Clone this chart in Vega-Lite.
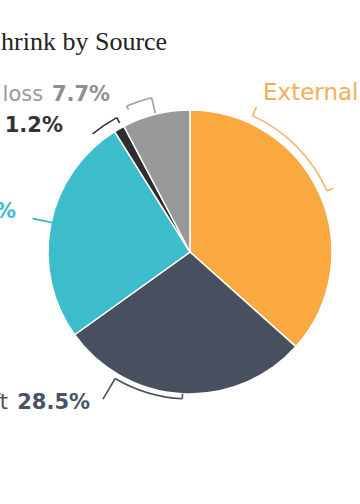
{
  "$schema": "https://vega.github.io/schema/vega-lite/v6.json",
  "width": 380,
  "height": 384,
  "autosize": "none",
  "padding": {"left": 0, "top": 60, "right": 0, "bottom": 60},
  "background": "white",
  "view": {"stroke": null},
  "title": {
    "text": "Inventory Shrink by Source",
    "anchor": "start",
    "frame": "group",
    "dx": -121,
    "dy": 33,
    "offset": 17,
    "baseline": "alphabetic",
    "font": "Liberation Serif",
    "fontSize": 26,
    "fontWeight": "normal",
    "color": "#222222"
  },
  "data": {
    "values": [
      {"source": "External theft", "value": 0.366, "idx": 1},
      {"source": "Employee theft", "value": 0.285, "idx": 2},
      {"source": "Process failure", "value": 0.26, "idx": 3},
      {"source": "Vendor errors", "value": 0.012, "idx": 4},
      {"source": "Unknown loss", "value": 0.077, "idx": 5}
    ]
  },
  "transform": [
    {"window": [{"op": "sum", "field": "value", "as": "cum"}], "sort": [{"field": "idx"}]}
  ],
  "layer": [
    {
      "mark": {"type": "arc", "radius": 142, "stroke": "white", "strokeWidth": 1.5},
      "encoding": {
        "theta": {"field": "value", "type": "quantitative", "stack": true, "scale": {"domain": [0, 1]}},
        "order": {"field": "idx", "type": "quantitative"},
        "color": {
          "field": "source", "type": "nominal", "legend": null,
          "scale": {
            "domain": ["External theft", "Employee theft", "Process failure", "Vendor errors", "Unknown loss"],
            "range": ["#F9A940", "#48505F", "#3DBDCC", "#2E2E30", "#999999"]
          }
        }
      }
    },
    {
      "transform": [{"filter": "datum.source === 'External theft'"}],
      "encoding": {"theta": {"field": "cum", "type": "quantitative", "stack": null, "scale": {"domain": [0, 1]}}},
      "layer": [
        {"mark": {"type": "arc", "filled": false, "stroke": "#F5B466", "strokeWidth": 1.6, "radius": 150, "radius2": 150, "thetaOffset": -1.8703, "theta2Offset": -1.1478}, "encoding": {"theta2": {"field": "cum"}}},
        {"mark": {"type": "arc", "filled": false, "stroke": "#F5B466", "strokeWidth": 1.6, "radius": 160, "radius2": 150, "thetaOffset": -1.8703, "theta2Offset": -1.8703}, "encoding": {"theta2": {"field": "cum"}}},
        {"mark": {"type": "arc", "filled": false, "stroke": "#F5B466", "strokeWidth": 1.6, "radius": 157, "radius2": 150, "thetaOffset": -1.1478, "theta2Offset": -1.1478}, "encoding": {"theta2": {"field": "cum"}}},
        {"mark": {"type": "text", "radius": 175, "thetaOffset": -1.869, "align": "left", "baseline": "middle", "font": "DejaVu Sans", "fontSize": 23, "color": "#F4AE58"}, "encoding": {"text": {"field": "source"}}},
        {"mark": {"type": "text", "radius": 175, "thetaOffset": -1.869, "dx": 175, "align": "left", "baseline": "middle", "font": "DejaVu Sans", "fontSize": 23, "fontWeight": "bold", "color": "#F4AE58"}, "encoding": {"text": {"field": "value", "type": "quantitative", "format": ".1%"}}}
      ]
    },
    {
      "transform": [{"filter": "datum.source === 'Employee theft'"}],
      "encoding": {"theta": {"field": "cum", "type": "quantitative", "stack": null, "scale": {"domain": [0, 1]}}},
      "layer": [
        {"mark": {"type": "arc", "filled": false, "stroke": "#4A5262", "strokeWidth": 1.6, "radius": 147, "radius2": 147, "thetaOffset": -0.8964, "theta2Offset": -0.4147}, "encoding": {"theta2": {"field": "cum"}}},
        {"mark": {"type": "arc", "filled": false, "stroke": "#4A5262", "strokeWidth": 1.6, "radius": 171, "radius2": 147, "thetaOffset": -0.4147, "theta2Offset": -0.4147}, "encoding": {"theta2": {"field": "cum"}}},
        {"mark": {"type": "arc", "filled": false, "stroke": "#4A5262", "strokeWidth": 1.6, "radius": 147, "radius2": 142, "thetaOffset": -0.8964, "theta2Offset": -0.8964}, "encoding": {"theta2": {"field": "cum"}}},
        {"mark": {"type": "text", "radius": 181, "thetaOffset": -0.364, "dx": -82, "align": "right", "baseline": "middle", "font": "DejaVu Sans", "fontSize": 21, "color": "#4A5262"}, "encoding": {"text": {"field": "source"}}},
        {"mark": {"type": "text", "radius": 181, "thetaOffset": -0.364, "align": "right", "baseline": "middle", "font": "DejaVu Sans", "fontSize": 21, "fontWeight": "bold", "color": "#4A5262"}, "encoding": {"text": {"field": "value", "type": "quantitative", "format": ".1%"}}}
      ]
    },
    {
      "transform": [{"filter": "datum.source === 'Process failure'"}],
      "encoding": {"theta": {"field": "cum", "type": "quantitative", "stack": null, "scale": {"domain": [0, 1]}}},
      "layer": [
        {"mark": {"type": "arc", "filled": false, "stroke": "#3DBDCC", "strokeWidth": 1.8, "radius": 161, "radius2": 141, "thetaOffset": -0.802, "theta2Offset": -0.802}, "encoding": {"theta2": {"field": "cum"}}},
        {"mark": {"type": "text", "radius": 178.5, "thetaOffset": -0.786, "dx": -78, "align": "right", "baseline": "middle", "font": "DejaVu Sans", "fontSize": 21, "color": "#3DBDCC"}, "encoding": {"text": {"field": "source"}}},
        {"mark": {"type": "text", "radius": 178.5, "thetaOffset": -0.786, "align": "right", "baseline": "middle", "font": "DejaVu Sans", "fontSize": 21, "fontWeight": "bold", "color": "#3DBDCC"}, "encoding": {"text": {"field": "value", "type": "quantitative", "format": ".1%"}}}
      ]
    },
    {
      "transform": [{"filter": "datum.source === 'Vendor errors'"}],
      "encoding": {"theta": {"field": "cum", "type": "quantitative", "stack": null, "scale": {"domain": [0, 1]}}},
      "layer": [
        {"mark": {"type": "arc", "filled": false, "stroke": "#333333", "strokeWidth": 1.6, "radius": 153, "radius2": 153, "thetaOffset": -0.2056, "theta2Offset": -0.0154}, "encoding": {"theta2": {"field": "cum"}}},
        {"mark": {"type": "arc", "filled": false, "stroke": "#333333", "strokeWidth": 1.6, "radius": 153, "radius2": 147, "thetaOffset": -0.0154, "theta2Offset": -0.0154}, "encoding": {"theta2": {"field": "cum"}}},
        {"mark": {"type": "text", "radius": 179, "thetaOffset": -0.305, "dx": -63, "align": "right", "baseline": "middle", "font": "DejaVu Sans", "fontSize": 21, "color": "#333333"}, "encoding": {"text": {"field": "source"}}},
        {"mark": {"type": "text", "radius": 179, "thetaOffset": -0.305, "align": "right", "baseline": "middle", "font": "DejaVu Sans", "fontSize": 21, "fontWeight": "bold", "color": "#333333"}, "encoding": {"text": {"field": "value", "type": "quantitative", "format": ".1%"}}}
      ]
    },
    {
      "transform": [{"filter": "datum.source === 'Unknown loss'"}],
      "encoding": {"theta": {"field": "cum", "type": "quantitative", "stack": null, "scale": {"domain": [0, 1]}}},
      "layer": [
        {"mark": {"type": "arc", "filled": false, "stroke": "#A0A0A0", "strokeWidth": 1.6, "radius": 159, "radius2": 159, "thetaOffset": -0.4084, "theta2Offset": -0.2443}, "encoding": {"theta2": {"field": "cum"}}},
        {"mark": {"type": "arc", "filled": false, "stroke": "#A0A0A0", "strokeWidth": 1.6, "radius": 159, "radius2": 155, "thetaOffset": -0.4084, "theta2Offset": -0.4084}, "encoding": {"theta2": {"field": "cum"}}},
        {"mark": {"type": "arc", "filled": false, "stroke": "#A0A0A0", "strokeWidth": 1.6, "radius": 159, "radius2": 143, "thetaOffset": -0.2443, "theta2Offset": -0.2443}, "encoding": {"theta2": {"field": "cum"}}},
        {"mark": {"type": "text", "radius": 176, "thetaOffset": -0.471, "dx": -67, "align": "right", "baseline": "middle", "font": "DejaVu Sans", "fontSize": 21, "color": "#999999"}, "encoding": {"text": {"field": "source"}}},
        {"mark": {"type": "text", "radius": 176, "thetaOffset": -0.471, "align": "right", "baseline": "middle", "font": "DejaVu Sans", "fontSize": 21, "fontWeight": "bold", "color": "#8F8F8F"}, "encoding": {"text": {"field": "value", "type": "quantitative", "format": ".1%"}}}
      ]
    }
  ]
}
